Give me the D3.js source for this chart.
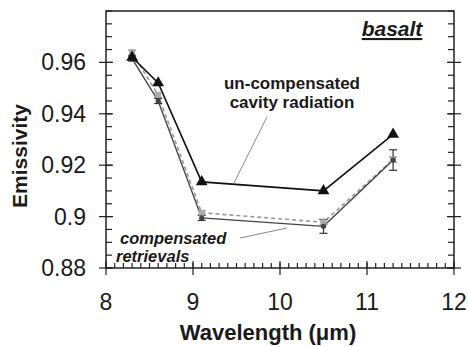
<!DOCTYPE html>
<html>
<head>
<meta charset="utf-8">
<script src="https://cdn.jsdelivr.net/npm/d3@7"></script>
<style>
  body { margin: 0; background: #fff; }
  svg text { font-family: "Liberation Sans", Arial, sans-serif; fill: #1a1a1a; }
</style>
</head>
<body>
<svg id="svg" width="468" height="347"></svg>
<script>
"use strict";

// wavelength (um)
let wavelengths = [8.3, 8.6, 9.1, 10.5, 11.3];
// un-compensated cavity radiation (triangles)
let uncompensated = [0.962, 0.952, 0.9135, 0.910, 0.932];
// compensated retrievals, solid dark with error bars
let compSolid = [0.9615, 0.945, 0.8995, 0.8962, 0.922];
let compSolidErr = [0.001, 0.001, 0.001, 0.0027, 0.004];
// compensated retrievals, grey dashed
let compDashed = [0.9638, 0.9473, 0.9015, 0.8978, 0.9222];
let compDashedErr = [0.001, 0.001, 0.0008, 0.001, 0.001];

let xTicks = [8, 9, 10, 11, 12];
let yTicks = [0.88, 0.9, 0.92, 0.94, 0.96];

let svg = d3.select("#svg");
let plotLeft = 106, plotRight = 454, plotTop = 11, plotBottom = 268;

let xScale = d3.scaleLinear().domain([8, 12]).range([plotLeft, plotRight]);
let yScale = d3.scaleLinear().domain([0.88, 0.98]).range([plotBottom, plotTop]);

// minor ticks
let xMinor = d3.range(8, 12.0001, 0.1);
let yMinor = d3.range(0.88, 0.98001, 0.005);

let axes = svg.append("g").attr("stroke", "#222").attr("stroke-width", 1.2);

axes.selectAll("line.xm")
	.data(xMinor)
	.enter()
	.append("line")
	.attr("x1", d => xScale(d)).attr("x2", d => xScale(d))
	.attr("y1", plotBottom).attr("y2", plotBottom - 5);

axes.selectAll("line.ym")
	.data(yMinor)
	.enter()
	.append("line")
	.attr("x1", plotLeft).attr("x2", plotLeft + 6)
	.attr("y1", d => yScale(d)).attr("y2", d => yScale(d));

axes.selectAll("line.ymr")
	.data(yMinor)
	.enter()
	.append("line")
	.attr("x1", plotRight).attr("x2", plotRight - 6)
	.attr("y1", d => yScale(d)).attr("y2", d => yScale(d));

// major ticks crossing the axes
axes.selectAll("line.xM")
	.data(xTicks)
	.enter()
	.append("line")
	.attr("x1", d => xScale(d)).attr("x2", d => xScale(d))
	.attr("y1", plotBottom - 7).attr("y2", plotBottom + 7);

axes.selectAll("line.yM")
	.data(yTicks)
	.enter()
	.append("line")
	.attr("x1", plotLeft - 7).attr("x2", plotLeft + 7)
	.attr("y1", d => yScale(d)).attr("y2", d => yScale(d));

axes.selectAll("line.yMr")
	.data(yTicks)
	.enter()
	.append("line")
	.attr("x1", plotRight - 7).attr("x2", plotRight + 7)
	.attr("y1", d => yScale(d)).attr("y2", d => yScale(d));

// frame
svg.append("rect")
	.attr("x", plotLeft).attr("y", plotTop)
	.attr("width", plotRight - plotLeft).attr("height", plotBottom - plotTop)
	.attr("fill", "none").attr("stroke", "#222").attr("stroke-width", 1.5);

// tick labels
svg.selectAll("text.xl")
	.data(xTicks)
	.enter()
	.append("text")
	.attr("x", d => xScale(d)).attr("y", 310)
	.attr("text-anchor", "middle")
	.style("font-size", "23px")
	.text(d => d);

svg.selectAll("text.yl")
	.data(yTicks)
	.enter()
	.append("text")
	.attr("x", 86).attr("y", d => yScale(d) + 8)
	.attr("text-anchor", "end")
	.style("font-size", "23px")
	.text(d => d3.format("")(d));

svg.append("text")
	.attr("x", 268).attr("y", 340)
	.attr("text-anchor", "middle")
	.style("font-size", "22px").style("font-weight", "bold")
	.text("Wavelength (\u03bcm)");

svg.append("text")
	.attr("transform", "translate(27,156) rotate(-90)")
	.attr("text-anchor", "middle")
	.style("font-size", "21px").style("font-weight", "bold")
	.text("Emissivity");

let pts = function(vals) {
	return wavelengths.map((w, i) => [xScale(w), yScale(vals[i])]);
};
let line = d3.line();

// grey dashed compensated
svg.append("path")
	.attr("d", line(pts(compDashed)))
	.attr("fill", "none").attr("stroke", "#999").attr("stroke-width", 1.6)
	.attr("stroke-dasharray", "4,3");

// dark solid compensated
svg.append("path")
	.attr("d", line(pts(compSolid)))
	.attr("fill", "none").attr("stroke", "#444").attr("stroke-width", 1.4);

// uncompensated
svg.append("path")
	.attr("d", line(pts(uncompensated)))
	.attr("fill", "none").attr("stroke", "#111").attr("stroke-width", 1.6);

// error bars
let errBars = function(vals, errs, colour) {
	let g = svg.append("g").attr("stroke", colour).attr("stroke-width", 1.2);
	wavelengths.forEach(function(w, i) {
		let x = xScale(w), y1 = yScale(vals[i] - errs[i]), y2 = yScale(vals[i] + errs[i]);
		g.append("line").attr("x1", x).attr("x2", x).attr("y1", y1).attr("y2", y2);
		g.append("line").attr("x1", x - 4).attr("x2", x + 4).attr("y1", y1).attr("y2", y1);
		g.append("line").attr("x1", x - 4).attr("x2", x + 4).attr("y1", y2).attr("y2", y2);
	});
};
errBars(compDashed, compDashedErr, "#888");
errBars(compSolid, compSolidErr, "#333");

svg.selectAll("rect.sq")
	.data(pts(compDashed))
	.enter()
	.append("rect")
	.attr("x", d => d[0] - 3).attr("y", d => d[1] - 3)
	.attr("width", 6).attr("height", 6)
	.attr("fill", "#aaa");

svg.selectAll("circle.dot")
	.data(pts(compSolid))
	.enter()
	.append("circle")
	.attr("cx", d => d[0]).attr("cy", d => d[1])
	.attr("r", 2.6)
	.attr("fill", "#444");

svg.selectAll("path.tri")
	.data(pts(uncompensated))
	.enter()
	.append("path")
	.attr("transform", d => "translate(" + d[0] + "," + d[1] + ")")
	.attr("d", d3.symbol().type(d3.symbolTriangle).size(60))
	.attr("fill", "#111");

// annotations
svg.append("text")
	.attr("x", 392).attr("y", 36)
	.attr("text-anchor", "middle")
	.style("font-size", "21px").style("font-weight", "bold").style("font-style", "italic")
	.style("text-decoration", "underline")
	.text("basalt");

let ann = svg.append("g").style("font-size", "17px").style("font-weight", "bold");
ann.append("text").attr("x", 292).attr("y", 89).attr("text-anchor", "middle").text("un-compensated");
ann.append("text").attr("x", 292).attr("y", 108).attr("text-anchor", "middle").text("cavity radiation");

let ann2 = svg.append("g").style("font-size", "16.5px").style("font-weight", "bold").style("font-style", "italic");
ann2.append("text").attr("x", 120).attr("y", 244).text("compensated");
ann2.append("text").attr("x", 116).attr("y", 262).text("retrievals");

svg.append("line")
	.attr("x1", 267).attr("y1", 117).attr("x2", 234).attr("y2", 183)
	.attr("stroke", "#888").attr("stroke-width", 1);
svg.append("line")
	.attr("x1", 240).attr("y1", 238).attr("x2", 287).attr("y2", 228)
	.attr("stroke", "#888").attr("stroke-width", 1);
</script>
</body>
</html>
